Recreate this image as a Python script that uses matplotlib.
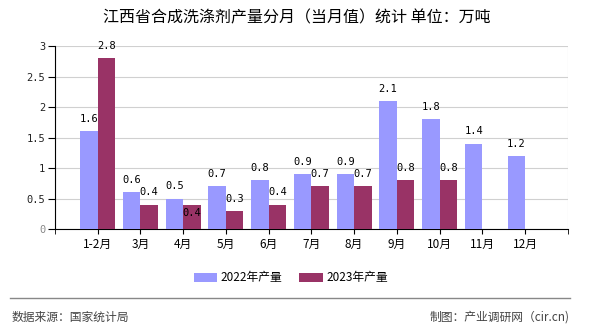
import matplotlib.pyplot as plt
import numpy as np

plt.rcParams['font.family'] = ['Noto Sans CJK SC', 'DejaVu Sans']

months = ['1-2月', '3月', '4月', '5月', '6月', '7月', '8月', '9月', '10月', '11月', '12月']
prod_2022 = [1.6, 0.6, 0.5, 0.7, 0.8, 0.9, 0.9, 2.1, 1.8, 1.4, 1.2]
prod_2023 = [2.8, 0.4, 0.4, 0.3, 0.4, 0.7, 0.7, 0.8, 0.8, None, None]
yticks = [0, 0.5, 1, 1.5, 2, 2.5, 3]

c22 = '#9999ff'
c23 = '#993366'

fig = plt.figure(figsize=(5.9, 3.3), dpi=100)
ax = fig.add_axes([0.093, 0.306, 0.8695, 0.5545])

x = np.arange(len(months))
w = 0.41
v22 = [np.nan if v is None else v for v in prod_2022]
v23 = [np.nan if v is None else v for v in prod_2023]
ax.bar(x - w / 2, v22, w, color=c22, label='2022年产量', zorder=3)
ax.bar(x + w / 2, v23, w, color=c23, label='2023年产量', zorder=3)

mono = 'DejaVu Sans Mono'
for i, v in enumerate(prod_2022):
    ax.text(x[i] - w / 2, v + 0.2, f'{v:.1f}', ha='center', va='center',
            fontsize=7.5, family=mono, zorder=4)
for i, v in enumerate(prod_2023):
    if v is None:
        continue
    yy = v + 0.2
    if i == 2:  # this label sits just under the bar top in the original
        yy = v - 0.13
    ax.text(x[i] + w / 2, yy, f'{v:.1f}', ha='center', va='center',
            fontsize=7.5, family=mono, zorder=4)

ax.set_xlim(-1, len(months))
ax.set_ylim(0, 3)
ax.set_yticks(yticks)
ax.set_yticklabels([f'{t:g}' for t in yticks], fontsize=7.5, family=mono, color='#222222')
ax.get_yticklabels()[0].set_color('#888888')
ax.set_xticks(x)
ax.set_xticklabels(months, fontsize=8.5)
ax.set_xticks(np.arange(-1, len(months) + 1), minor=True)
ax.tick_params(axis='x', which='major', length=3.5, color='black', pad=3)
ax.tick_params(axis='x', which='minor', length=3.5, color='black')
ax.tick_params(axis='y', length=5, pad=2)
ax.grid(True, which='minor', axis='x', color='#d0d0d0', lw=0.8, zorder=0)
ax.grid(True, which='major', axis='y', color='#d0d0d0', lw=0.8, zorder=0)
for s in ['top', 'right']:
    ax.spines[s].set_visible(False)
ax.spines['left'].set_color('black')
ax.spines['bottom'].set_color('black')

fig.text(0.503, 0.945, '江西省合成洗涤剂产量分月（当月值）统计 单位：万吨',
         ha='center', va='center', fontsize=11.5)

fig.legend(loc='center', bbox_to_anchor=(0.493, 0.158), ncol=2, frameon=False,
           fontsize=8.5, handlelength=2.0, handleheight=0.75, handletextpad=0.3,
           columnspacing=1.4)

fig.add_artist(plt.Line2D([0.017, 0.966], [0.097, 0.097], color='#888888', lw=1))
fig.text(0.02, 0.04, '数据来源：国家统计局', fontsize=8.5, color='#444444', va='center')
fig.text(0.966, 0.04, '制图：产业调研网（cir.cn)', fontsize=8.5, color='#444444',
         va='center', ha='right')

fig.savefig('out.png', dpi=100)
